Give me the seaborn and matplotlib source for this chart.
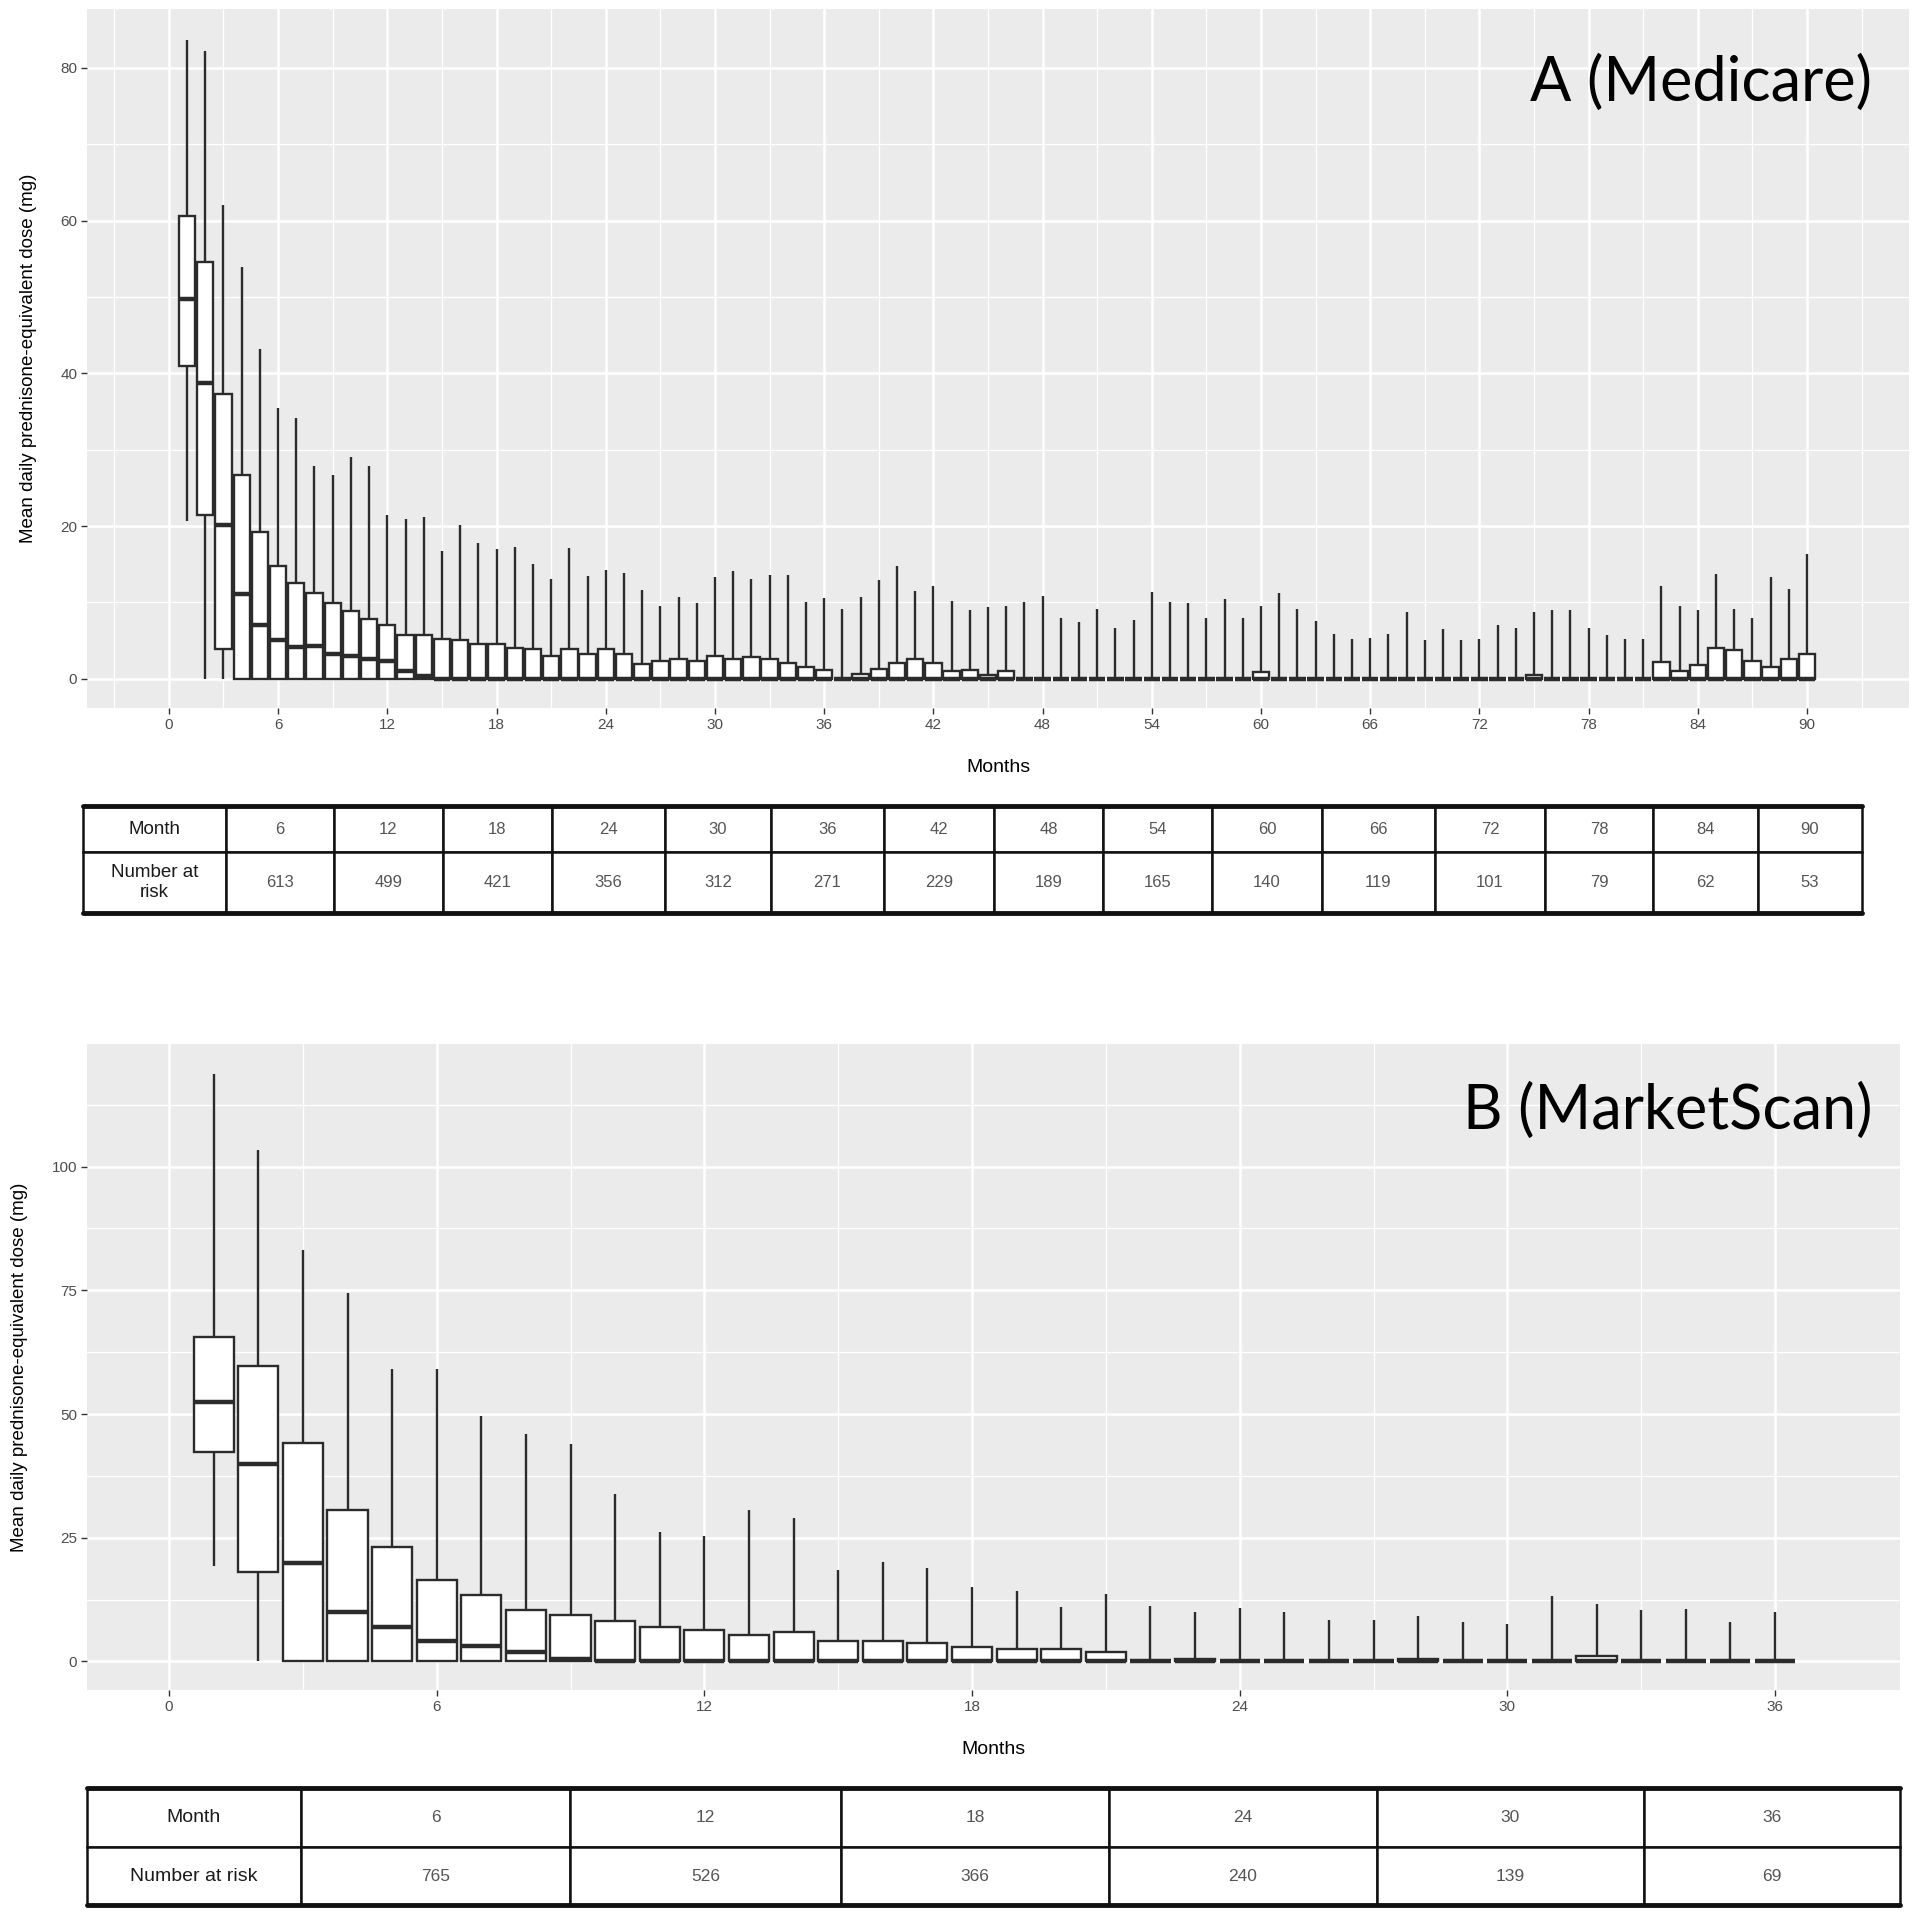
import numpy as np
import pandas as pd
import matplotlib
matplotlib.use("Agg")
import matplotlib.pyplot as plt
import seaborn as sns
from matplotlib.ticker import MultipleLocator

# Panel A (Medicare): five-number summary per month, months 1..90
a_months = list(range(1, 91))
a_hi = [83.6, 82.2, 62.1, 53.9, 43.2, 35.5, 34.1, 27.9, 26.7, 29.1,
        27.9, 21.4, 20.9, 21.2, 16.7, 20.1, 17.8, 17.0, 17.3, 15.0,
        13.1, 17.1, 13.5, 14.3, 13.8, 11.7, 9.6, 10.7, 9.9, 13.4,
        14.1, 13.1, 13.6, 13.6, 10.0, 10.6, 9.2, 10.7, 13.0, 14.8,
        11.5, 12.1, 10.2, 9.0, 9.4, 9.6, 10.0, 10.9, 8.0, 7.5,
        9.1, 6.6, 7.7, 11.4, 10.0, 9.9, 8.0, 10.4, 8.0, 9.6,
        11.2, 9.1, 7.6, 5.9, 5.2, 5.4, 5.9, 8.8, 5.1, 6.5,
        5.1, 5.2, 7.1, 6.7, 8.7, 9.0, 9.0, 6.7, 5.7, 5.2,
        5.2, 12.1, 9.6, 9.0, 13.7, 9.1, 8.0, 13.4, 11.8, 16.4]
a_q3 = [60.6, 54.6, 37.3, 26.7, 19.2, 14.8, 12.6, 11.3, 9.9, 8.9,
        7.9, 7.0, 5.8, 5.7, 5.2, 5.1, 4.6, 4.6, 4.0, 3.9,
        3.0, 3.9, 3.3, 3.9, 3.2, 2.0, 2.4, 2.6, 2.4, 3.0,
        2.6, 2.9, 2.6, 2.1, 1.5, 1.2, 0.0, 0.6, 1.3, 2.1,
        2.6, 2.1, 1.0, 1.1, 0.5, 1.0, 0.0, 0.0, 0.0, 0.0,
        0.0, 0.0, 0.0, 0.0, 0.0, 0.0, 0.0, 0.0, 0.0, 0.9,
        0.0, 0.0, 0.0, 0.0, 0.0, 0.0, 0.0, 0.0, 0.0, 0.0,
        0.0, 0.0, 0.0, 0.0, 0.5, 0.0, 0.0, 0.0, 0.0, 0.0,
        0.0, 2.2, 1.0, 1.8, 4.0, 3.8, 2.4, 1.6, 2.6, 3.2]
a_med = [49.7, 38.8, 20.1, 11.1, 7.0, 5.1, 4.2, 4.3, 3.2, 3.0,
         2.6, 2.4, 1.0, 0.4] + [0.0] * 76
a_q1 = [41.0, 21.4, 3.9] + [0.0] * 87
a_lo = [20.7] + [0.0] * 89

# Panel B (MarketScan): months 1..36
b_months = list(range(1, 37))
b_hi = [118.8, 103.4, 83.1, 74.5, 59.2, 59.2, 49.7, 45.9, 44.0, 33.8,
        26.2, 25.3, 30.7, 28.9, 18.4, 20.1, 18.8, 15.1, 14.2, 11.1,
        13.6, 11.3, 10.1, 10.8, 10.1, 8.4, 8.4, 9.1, 8.0, 7.6,
        13.3, 11.7, 10.5, 10.6, 8.0, 10.0]
b_q3 = [65.6, 59.8, 44.1, 30.6, 23.1, 16.5, 13.4, 10.4, 9.3, 8.1,
        6.9, 6.3, 5.3, 5.9, 4.1, 4.1, 3.7, 3.0, 2.6, 2.6,
        2.0, 0.0, 0.6, 0.0, 0.0, 0.0, 0.0, 0.5, 0.0, 0.0,
        0.0, 1.1, 0.0, 0.0, 0.0, 0.0]
b_med = [52.4, 40.0, 19.8, 10.0, 6.9, 4.2, 3.2, 1.9, 0.5] + [0.0] * 27
b_q1 = [42.3, 18.0] + [0.0] * 34
b_lo = [19.3] + [0.0] * 35

# number-at-risk tables
a_table_months = [6, 12, 18, 24, 30, 36, 42, 48, 54, 60, 66, 72, 78, 84, 90]
a_at_risk = [613, 499, 421, 356, 312, 271, 229, 189, 165, 140, 119, 101, 79, 62, 53]
b_table_months = [6, 12, 18, 24, 30, 36]
b_at_risk = [765, 526, 366, 240, 139, 69]

YLABEL = "Mean daily prednisone-equivalent dose (mg)"

sns.set_theme(style="darkgrid", rc={"axes.facecolor": "#EBEBEB", "grid.color": "white"})
plt.rcParams["font.family"] = ["Liberation Sans", "DejaVu Sans"]


def long_form(months, lo, q1, med, q3, hi):
    # five values per month -> seaborn's quartiles land exactly on them
    rows = []
    for m, vals in zip(months, zip(lo, q1, med, q3, hi)):
        for v in vals:
            rows.append((m, v))
    return pd.DataFrame(rows, columns=["month", "dose"])


def draw_panel(ax, df, xlim, ylim, yticks, yminor, xmax, tag, tag_x):
    sns.boxplot(data=df, x="month", y="dose", native_scale=True, whis=(0, 100),
                width=0.9, color="white", linecolor="#2b2b2b", linewidth=1.7,
                showcaps=False, medianprops={"linewidth": 3.2}, ax=ax)
    ax.set_xlim(*xlim)
    ax.set_ylim(*ylim)
    ax.set_xticks(range(0, xmax + 1, 6))
    ax.xaxis.set_minor_locator(MultipleLocator(3))
    ax.set_yticks(yticks)
    ax.yaxis.set_minor_locator(MultipleLocator(yminor))
    ax.grid(which="major", color="white", linewidth=1.8)
    ax.grid(which="minor", color="white", linewidth=0.9)
    ax.set_axisbelow(True)
    ax.tick_params(which="minor", length=0)
    ax.tick_params(which="major", bottom=True, left=True, length=4, width=1,
                   color="#333333", labelcolor="#4d4d4d", labelsize=11, pad=3)
    for s in ax.spines.values():
        s.set_visible(False)
    ax.set_xlabel("Months", fontsize=14, labelpad=20, color="black")
    ax.set_ylabel(YLABEL, fontsize=13.5, labelpad=17, color="black")
    ax.text(tag_x, 0.869, tag, transform=ax.transAxes, ha="right", va="baseline",
            fontsize=44, family=["Lato", "DejaVu Sans"], color="black")


def draw_table(ax, months, risk, risk_label, col_widths, row_heights, fs_head, fs_num):
    ax.axis("off")
    cells = [["Month"] + [str(m) for m in months],
             [risk_label] + [str(r) for r in risk]]
    total = sum(col_widths)
    tbl = ax.table(cellText=cells, cellLoc="center",
                   colWidths=[w / total for w in col_widths], bbox=[0, 0, 1, 1])
    tbl.auto_set_font_size(False)
    for (r, c), cell in tbl.get_celld().items():
        cell.set_linewidth(1.8)
        cell.set_edgecolor("#111111")
        cell.set_height(row_heights[r])
        txt = cell.get_text()
        if c == 0:
            txt.set_fontsize(fs_head)
            txt.set_color("#1a1a1a")
        else:
            txt.set_fontsize(fs_num)
            txt.set_color("#555555")
    ax.plot([0, 1], [1, 1], transform=ax.transAxes, color="#111111", lw=3.5, clip_on=False)
    ax.plot([0, 1], [0, 0], transform=ax.transAxes, color="#111111", lw=3.5, clip_on=False)


fig = plt.figure(figsize=(19.16, 19.2), dpi=100)

ax_a = fig.add_axes([0.0454, 0.6313, 0.9509, 0.3640])
draw_panel(ax_a, long_form(a_months, a_lo, a_q1, a_med, a_q3, a_hi),
           (-4.5, 95.6), (-3.8, 87.7), [0, 20, 40, 60, 80], 10, 90,
           "A (Medicare)", 0.980)

tab_a = fig.add_axes([0.0433, 0.5245, 0.9285, 0.0557])
draw_table(tab_a, a_table_months, a_at_risk, "Number at\nrisk",
           [143, 108, 109, 109, 113, 106, 113, 110, 109, 109, 110, 113, 110, 108, 105, 104],
           [46, 61], 13.5, 12)

ax_b = fig.add_axes([0.0454, 0.1198, 0.9462, 0.3365])
draw_panel(ax_b, long_form(b_months, b_lo, b_q1, b_med, b_q3, b_hi),
           (-1.84, 38.8), (-5.76, 124.8), [0, 25, 50, 75, 100], 12.5, 36,
           "B (MarketScan)", 0.985)

tab_b = fig.add_axes([0.0454, 0.0078, 0.9462, 0.0609])
draw_table(tab_b, b_table_months, b_at_risk, "Number at risk",
           [214, 269, 271, 268, 268, 267, 256], [59, 58], 14, 12.5)

fig.savefig("out.png", dpi=100)
